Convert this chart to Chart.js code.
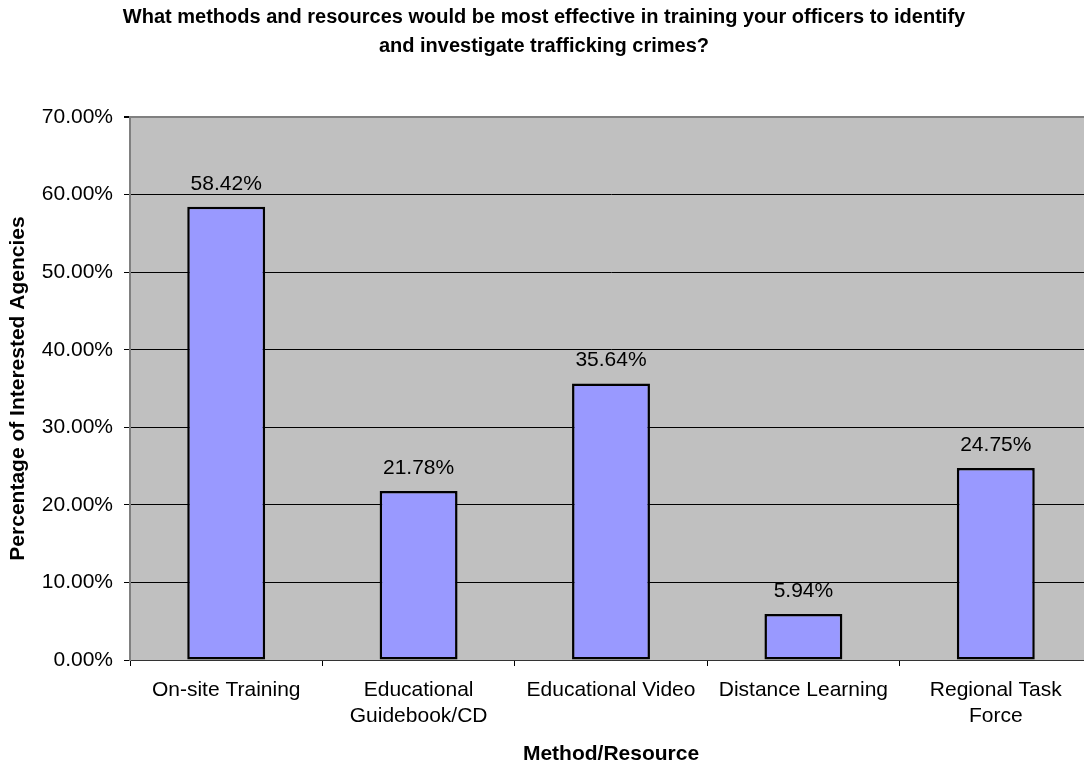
<!DOCTYPE html>
<html>
<head>
<meta charset="utf-8">
<script src="https://cdn.jsdelivr.net/npm/chart.js@4.4.1/dist/chart.umd.min.js"></script>
<style>
  html, body { margin: 0; padding: 0; background: #fff; overflow: hidden; }
  #wrap { position: relative; margin-left: -4px; width: 1096px; height: 767px; }
</style>
</head>
<body>
<div id="wrap"><canvas id="chart"></canvas></div>
<script>
// data
var categories = [
  'On-site Training',
  ['Educational', 'Guidebook/CD'],
  'Educational Video',
  'Distance Learning',
  ['Regional Task', 'Force']
];
var percentages = [58.42, 21.78, 35.64, 5.94, 24.75];
var yMax = 70;
var yStep = 10;

var FONT = "'Liberation Sans', Arial, sans-serif";

// grey plot area like the old Excel chart
var plotBackground = {
  id: 'plotBackground',
  beforeDraw: function (chart) {
    var a = chart.chartArea;
    var ctx = chart.ctx;
    ctx.save();
    ctx.fillStyle = '#C0C0C0';
    ctx.fillRect(a.left, a.top, a.right - a.left, a.bottom - a.top);
    ctx.restore();
  }
};

// value labels above each bar
var valueLabels = {
  id: 'valueLabels',
  afterDatasetsDraw: function (chart) {
    var ctx = chart.ctx;
    var meta = chart.getDatasetMeta(0);
    ctx.save();
    ctx.font = '21px ' + FONT;
    ctx.fillStyle = '#000';
    ctx.textAlign = 'center';
    ctx.textBaseline = 'middle';
    meta.data.forEach(function (bar, i) {
      ctx.fillText(percentages[i].toFixed(2) + '%', bar.x, bar.y - 23);
    });
    ctx.restore();
  }
};

var data = {
  labels: categories,
  datasets: [{
    label: 'Percentage of Interested Agencies',
    data: percentages,
    backgroundColor: '#9999FF',
    borderColor: '#000000',
    borderWidth: 2.5,
    borderSkipped: false,
    barPercentage: 0.405,
    categoryPercentage: 1
  }]
};

const config = {
  type: 'bar',
  data: data,
  options: {
    responsive: true,
    maintainAspectRatio: false,
    animation: false,
    layout: { padding: 0 },
    plugins: {
      legend: { display: false },
      tooltip: { enabled: false },
      title: {
        display: true,
        text: [
          'What methods and resources would be most effective in training your officers to identify',
          'and investigate trafficking crimes?'
        ],
        color: '#000',
        font: { family: FONT, size: 20, weight: 'bold', lineHeight: 1.45 },
        padding: { top: 3, bottom: 56 }
      }
    },
    scales: {
      x: {
        afterFit: function (s) { s.height = 107; },
        grid: {
          display: true,
          drawOnChartArea: false,
          drawTicks: true,
          tickLength: 6,
          tickColor: '#000',
          offset: true
        },
        border: { display: true, color: '#333', width: 1 },
        ticks: {
          color: '#000',
          font: { family: FONT, size: 21, lineHeight: 1.25 },
          padding: 11,
          autoSkip: false,
          maxRotation: 0
        },
        title: {
          display: true,
          text: 'Method/Resource',
          color: '#000',
          font: { family: FONT, size: 21, weight: 'bold' },
          padding: { top: 0, bottom: 0 }
        }
      },
      y: {
        min: 0,
        max: yMax,
        afterFit: function (s) { s.width = 134; },
        grid: {
          color: function (c) {
            if (c.tick && c.tick.value === yMax) return '#808080';
            return '#000';
          },
          lineWidth: function (c) {
            return (c.tick && c.tick.value === yMax) ? 2 : 1;
          },
          drawTicks: true,
          tickLength: 6,
          tickColor: '#000'
        },
        border: { display: true, color: '#808080', width: 2 },
        ticks: {
          stepSize: yStep,
          color: '#000',
          font: { family: FONT, size: 21 },
          padding: 11,
          callback: function (v) { return v.toFixed(2) + '%'; }
        },
        title: {
          display: true,
          text: 'Percentage of Interested Agencies',
          color: '#000',
          font: { family: FONT, size: 21, weight: 'bold' },
          padding: { top: 10, bottom: 0 }
        }
      }
    }
  },
  plugins: [plotBackground, valueLabels]
};

const graph = new Chart(document.getElementById('chart'), config);
</script>
</body>
</html>
